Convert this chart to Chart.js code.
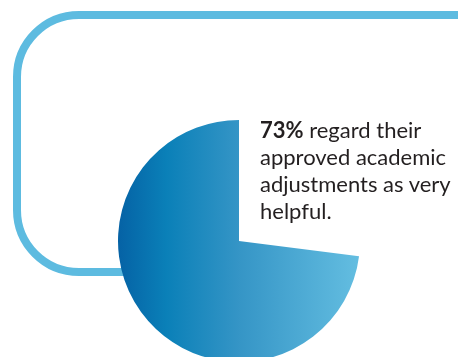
<!DOCTYPE html>
<html>
<head>
<meta charset="utf-8">
<script src="https://cdn.jsdelivr.net/npm/chart.js@4"></script>
<style>
    html, body { margin: 0; padding: 0; background: #fff; overflow: hidden; }
    body { width: 458px; height: 357px; position: relative; }
    #wrap { position: absolute; left: 0; top: 0; width: 458px; height: 362px; }
    #note {
        position: absolute; left: 260px; top: 116px; width: 198px;
        font-family: Lato, 'Noto Sans', sans-serif; font-size: 22px; line-height: 27px;
        color: #231f20;
    }
    #note b { font-weight: 700; }
</style>
</head>
<body>
<div id="wrap"><canvas id="pieChart"></canvas></div>
<div id="note"><b>73%</b> regard their approved academic adjustments as very helpful.</div>
<script>
// Data
const labels = ['Other', 'Very helpful'];
const values = [27, 73];

// Rounded frame behind the pie
const framePlugin = {
    id: 'frame',
    beforeDraw(chart) {
        const ctx = chart.ctx;
        const x = 17, y = 15, r = 62;
        ctx.save();
        ctx.strokeStyle = '#5dbbe0';
        ctx.lineWidth = 8;
        ctx.beginPath();
        ctx.moveTo(540, y);
        ctx.lineTo(x + r, y);
        ctx.arcTo(x, y, x, y + r, r);
        ctx.lineTo(x, 272 - r);
        ctx.arcTo(x, 272, x + r, 272, r);
        ctx.lineTo(230, 272);
        ctx.stroke();
        ctx.restore();
    }
};

function sliceColor(context) {
    if (context.dataIndex === 0) return 'rgba(0,0,0,0)';
    const area = context.chart.chartArea;
    if (!area) return '#3795c6';
    const g = context.chart.ctx.createLinearGradient(area.left, 0, area.right, 0);
    g.addColorStop(0, '#0562a5');
    g.addColorStop(0.2, '#0a80b8');
    g.addColorStop(0.5, '#3595c6');
    g.addColorStop(1, '#64bee1');
    return g;
}

new Chart(document.getElementById('pieChart'), {
    type: 'pie',
    data: {
        labels: labels,
        datasets: [{
            data: values,
            backgroundColor: sliceColor,
            borderWidth: 0,
            hoverOffset: 0
        }]
    },
    options: {
        responsive: true,
        maintainAspectRatio: false,
        animation: false,
        layout: { padding: { left: 118, right: 98, top: 120, bottom: 0 } },
        plugins: {
            legend: { display: false },
            tooltip: { enabled: false }
        }
    },
    plugins: [framePlugin]
});
</script>
</body>
</html>
